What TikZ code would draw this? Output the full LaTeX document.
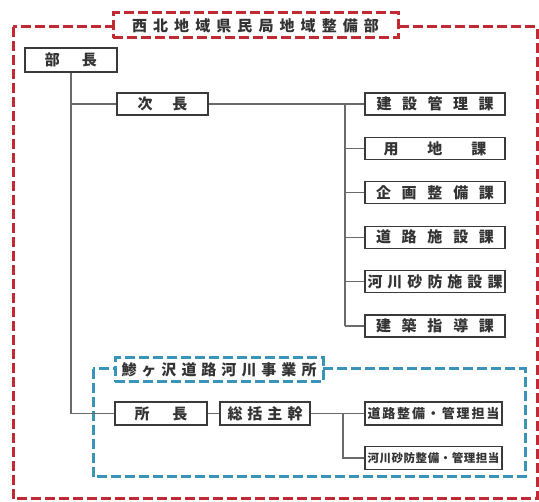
\documentclass[tikz,border=0pt]{standalone}
\usepackage{fontspec}
\usepackage{xcolor}
\usepackage{tikz}
\newfontfamily\jp{Noto Sans CJK JP}
\definecolor{bureauRed}{HTML}{C22A33}
\definecolor{officeBlue}{HTML}{3A93B8}
\definecolor{boxInk}{HTML}{3A3A3A}
\definecolor{lineGray}{HTML}{6A6A6A}
\definecolor{textInk}{HTML}{333333}
\newcommand\spreadtext[2]{\makebox[#1][s]{#2}}

\tikzset{
  post/.style={draw=boxInk, line width=1.1pt, fill=white, inner sep=0pt,
    text=textInk, font=\jp\bfseries\fontsize{15}{15}\selectfont},
  link/.style={draw=lineGray, line width=1.2pt},
  redframe/.style={draw=bureauRed, line width=3pt, dash pattern=on 10pt off 4pt},
  blueframe/.style={draw=officeBlue, line width=3pt, dash pattern=on 10pt off 4pt}
}

\begin{document}
\begin{tikzpicture}[x=1pt, y=-1pt, line cap=butt, line join=miter]
  \useasboundingbox (0,0) rectangle (539,502);
  % outer frame
  \draw[redframe] (13,27) rectangle (537,499);
  \node[redframe, fill=white, inner sep=0pt, minimum width=285pt, minimum height=25pt,
    text=textInk, font=\jp\bfseries\fontsize{15}{15}\selectfont] (bureau) at (255.5,25.5)
    {\spreadtext{247pt}{西\hfil 北\hfil 地\hfil 域\hfil 県\hfil 民\hfil 局\hfil 地\hfil 域\hfil 整\hfil 備\hfil 部}};

  % inner frame
  \draw[blueframe] (93,369) rectangle (525,477);
  \node[blueframe, fill=white, inner sep=0pt, minimum width=208pt, minimum height=24pt,
    text=textInk, font=\jp\bfseries\fontsize{15}{15}\selectfont] (office) at (219,370)
    {\spreadtext{195pt}{鯵\hfil ヶ\hfil 沢\hfil 道\hfil 路\hfil 河\hfil 川\hfil 事\hfil 業\hfil 所}};

  % heads
  \node[post, minimum width=92pt, minimum height=24pt] (bucho) at (71,60) {\spreadtext{52pt}{部\hfil 長}};
  \node[post, minimum width=91pt, minimum height=22pt] (jicho) at (162.5,104) {\spreadtext{50pt}{次\hfil 長}};

  % sections
  \foreach \i/\y/\w/\lbl in {1/104/117pt/建\hfil 設\hfil 管\hfil 理\hfil 課,
                             2/148.4/103pt/用\hfil 地\hfil 課,
                             3/192.8/118pt/企\hfil 画\hfil 整\hfil 備\hfil 課,
                             4/237.2/118pt/道\hfil 路\hfil 施\hfil 設\hfil 課,
                             5/281.6/135pt/河\hfil 川\hfil 砂\hfil 防\hfil 施\hfil 設\hfil 課,
                             6/326/118pt/建\hfil 築\hfil 指\hfil 導\hfil 課}{%
    \node[post, minimum width=140pt, minimum height=22pt] (sec\i) at (435,\y) {\spreadtext{\w}{\lbl}};
  }

  % office posts
  \node[post, minimum width=92pt, minimum height=23pt] (shocho) at (161,413.5) {\spreadtext{53pt}{所\hfil 長}};
  \node[post, minimum width=90pt, minimum height=23pt] (sokatsu) at (265,413.5) {\spreadtext{75pt}{総\hfil 括\hfil 主\hfil 幹}};
  \node[post, minimum width=137pt, minimum height=23pt, font=\jp\bfseries\fontsize{13}{13}\selectfont] (tanto1) at (433.5,413.5)
    {\spreadtext{132pt}{道\hfil 路\hfil 整\hfil 備\hfil ・\hfil 管\hfil 理\hfil 担\hfil 当}};
  \node[post, minimum width=137pt, minimum height=23pt, font=\jp\bfseries\fontsize{11.5}{11.5}\selectfont] (tanto2) at (433.5,458)
    {\spreadtext{132pt}{河\hfil 川\hfil 砂\hfil 防\hfil 整\hfil 備\hfil ・\hfil 管\hfil 理\hfil 担\hfil 当}};

  % connectors
  \draw[link] (bucho.south) |- (shocho.west);
  \draw[link] (bucho.south |- jicho.west) -- (jicho.west);
  \draw[link] (jicho.east) -- (sec1.west);
  \coordinate (trunk) at (345,104);
  \draw[link] (trunk) -- (trunk |- sec6.west);
  \foreach \i in {2,...,6}{%
    \draw[link] (trunk |- sec\i.west) -- (sec\i.west);
  }
  \draw[link] (shocho.east) -- (sokatsu.west);
  \draw[link] (sokatsu.east) -- (tanto1.west);
  \coordinate (fork) at (343,413.5);
  \draw[link] (fork) |- (tanto2.west);
\end{tikzpicture}
\end{document}
